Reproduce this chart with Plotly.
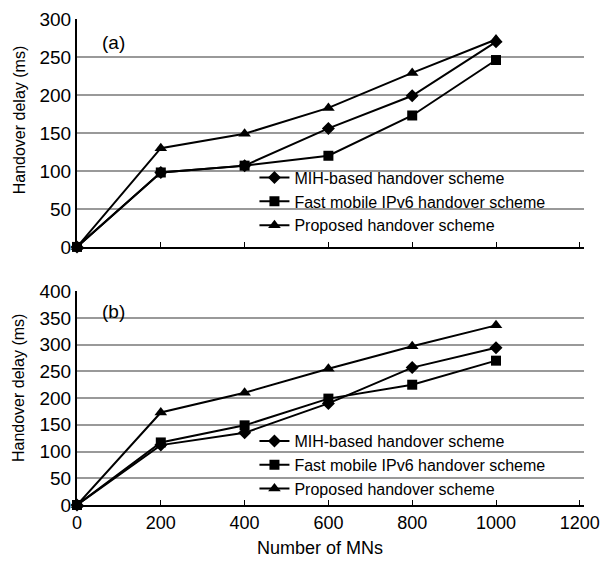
import plotly.graph_objects as go
from plotly.subplots import make_subplots

mns = [0, 200, 400, 600, 800, 1000]
series_names = ["MIH-based handover scheme", "Fast mobile IPv6 handover scheme", "Proposed handover scheme"]
a_mih = [0, 98, 107, 156, 199, 270]
a_fmip = [0, 98, 107, 120, 173, 246]
a_prop = [0, 130, 149, 183, 229, 273]
b_mih = [0, 112, 135, 190, 257, 294]
b_fmip = [0, 117, 149, 199, 225, 270]
b_prop = [0, 173, 210, 255, 297, 336]
x_ticks = [0, 200, 400, 600, 800, 1000, 1200]

symbols = ["diamond", "square", "triangle-up"]
sizes = [10, 10, 11]

fig = make_subplots(rows=2, cols=1, vertical_spacing=0.09)
fig.update_layout(yaxis=dict(domain=[0.531, 1.0]), yaxis2=dict(domain=[0.0, 0.440]))

for i, (ys, sym) in enumerate(zip([a_mih, a_fmip, a_prop], symbols)):
    fig.add_trace(go.Scatter(x=mns, y=ys, name=series_names[i], mode="lines+markers",
                             line=dict(color="black", width=2),
                             marker=dict(symbol=sym, size=sizes[i], color="black"),
                             legend="legend", cliponaxis=False), row=1, col=1)
for i, (ys, sym) in enumerate(zip([b_mih, b_fmip, b_prop], symbols)):
    fig.add_trace(go.Scatter(x=mns, y=ys, name=series_names[i], mode="lines+markers",
                             line=dict(color="black", width=2),
                             marker=dict(symbol=sym, size=sizes[i], color="black"),
                             legend="legend2", cliponaxis=False), row=2, col=1)

font = "Liberation Sans, Arial, sans-serif"
xcommon = dict(range=[0, 1210], showgrid=False, showline=True, linecolor="black", linewidth=2,
               tickvals=x_ticks, ticks="inside", ticklen=5, tickwidth=1, tickcolor="black",
               zeroline=False, automargin=False, ticklabeloverflow="allow",
               tickfont=dict(size=18, color="black", family=font))
fig.update_xaxes(**xcommon)
fig.update_xaxes(showticklabels=False, row=1, col=1)

ycommon = dict(showgrid=True, gridcolor="#999999", gridwidth=2, showline=True, linecolor="black",
               linewidth=2, ticks="", zeroline=False, dtick=50, automargin=False,
               ticklabeloverflow="allow",
               tickfont=dict(size=19, color="black", family=font))
fig.update_yaxes(**ycommon)
fig.update_yaxes(range=[0, 300], row=1, col=1)
fig.update_yaxes(range=[0, 400], row=2, col=1)

legend_common = dict(bgcolor="rgba(0,0,0,0)", font=dict(size=16, color="black", family=font),
                     xanchor="left", yanchor="top", tracegroupgap=0)
title_font = dict(size=16, color="black", family=font)
fig.update_layout(
    width=601, height=561,
    margin=dict(l=77, r=17, t=19, b=56),
    paper_bgcolor="white", plot_bgcolor="white",
    font=dict(family=font, color="black"),
    legend=dict(x=0.350, y=0.7085, **legend_common),
    legend2=dict(x=0.350, y=0.1665, **legend_common),
    annotations=[
        dict(text="(a)", x=0.045, y=0.951, xref="paper", yref="paper", showarrow=False,
             font=dict(size=19, color="black", family=font), xanchor="left", yanchor="middle"),
        dict(text="(b)", x=0.045, y=0.399, xref="paper", yref="paper", showarrow=False,
             font=dict(size=19, color="black", family=font), xanchor="left", yanchor="middle"),
        dict(text="Handover delay (ms)", textangle=-90, x=-0.114, y=0.792, xref="paper", yref="paper",
             showarrow=False, font=title_font, xanchor="center", yanchor="middle"),
        dict(text="Handover delay (ms)", textangle=-90, x=-0.114, y=0.241, xref="paper", yref="paper",
             showarrow=False, font=title_font, xanchor="center", yanchor="middle"),
        dict(text="Number of MNs", x=0.479, y=-0.0885, xref="paper", yref="paper",
             showarrow=False, font=dict(size=18, color="black", family=font),
             xanchor="center", yanchor="middle"),
    ],
)

fig.write_html("out.html", config={"displayModeBar": False},
               post_script="document.body.style.margin='0';document.body.style.overflow='hidden';")
